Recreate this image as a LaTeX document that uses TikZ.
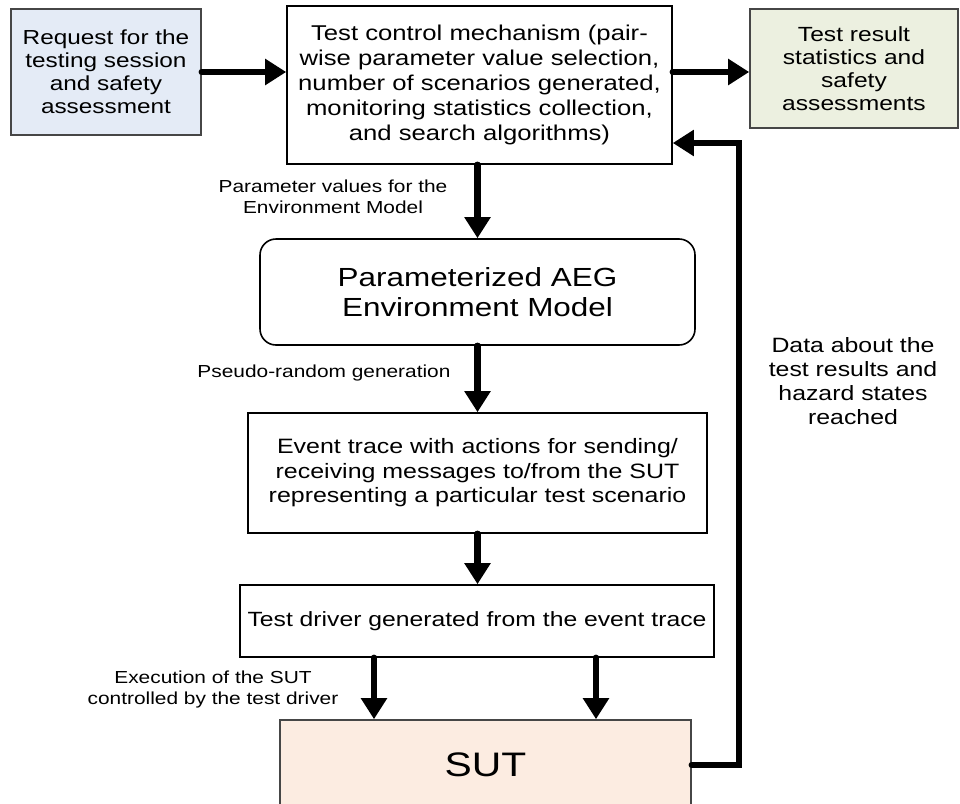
\documentclass[tikz,border=0pt]{standalone}
\usepackage{fontspec}
\setmainfont{Liberation Sans}[FakeStretch=1.2]
\usetikzlibrary{arrows.meta}
\definecolor{reqfill}{RGB}{228,235,246}
\definecolor{resfill}{RGB}{236,240,224}
\definecolor{sutfill}{RGB}{252,236,225}
\definecolor{graybd}{RGB}{70,70,70}
\newcommand{\fs}[2]{\fontsize{#1}{#2}\selectfont}
\tikzset{
  boxbase/.style={rectangle, inner sep=0pt, align=center, line width=1.6pt},
  plainbox/.style={boxbase, draw=black, fill=white},
  arr/.style={line width=6.5pt, line cap=round, line join=miter,
    -{Triangle[width=25pt,length=21pt]}},
  lbl/.style={inner sep=0pt, align=center}
}
\begin{document}
\begin{tikzpicture}[x=1pt,y=-1pt]
\useasboundingbox (0,0) rectangle (960,803);
% boxes
\node[boxbase, draw=graybd, fill=reqfill, minimum width=190pt, minimum height=126pt,
  font=\fs{20.3}{23}] (req) at (106,72)
  {Request for the\\testing session\\and safety\\assessment};
\node[plainbox, minimum width=385pt, minimum height=158pt,
  font=\fs{21.4}{25}] (ctrl) at (479.5,85)
  {Test control mechanism (pair-\\wise parameter value selection,\\number of scenarios generated,\\monitoring statistics collection,\\and search algorithms)};
\node[boxbase, draw=graybd, fill=resfill, minimum width=208pt, minimum height=119pt,
  font=\fs{20.5}{23}] (res) at (854,68.5)
  {Test result\\statistics and\\safety\\assessments};
\node[plainbox, rounded corners=16pt, minimum width=435pt, minimum height=106pt,
  font=\fs{26.2}{30}] (aeg) at (477.5,292)
  {Parameterized AEG\\Environment Model};
\node[plainbox, minimum width=459pt, minimum height=120pt,
  font=\fs{20.8}{24.5}] (evt) at (477.5,473)
  {Event trace with actions for sending/\\receiving messages to/from the SUT\\representing a particular test scenario};
\node[plainbox, minimum width=474pt, minimum height=72pt,
  font=\fs{20.6}{24}] (drv) at (477,621)
  {Test driver generated from the event trace};
\node[boxbase, draw=graybd, fill=sutfill, minimum width=411pt, minimum height=90pt,
  font=\fs{34}{38}] (sut) at (485.5,765) {SUT};
% labels
\node[lbl, font=\fs{17.4}{21}] (l1) at (333,196.5)
  {Parameter values for the\\Environment Model};
\node[lbl, font=\fs{17.4}{21}] (l2) at (324,373) {Pseudo-random generation};
\node[lbl, font=\fs{17.4}{21}] (l3) at (213,689)
  {Execution of the SUT\\controlled by the test driver};
\node[lbl, font=\fs{20.7}{24}] (l4) at (853,381)
  {Data about the\\test results and\\hazard states\\reached};
% connectors
\coordinate (fbtop) at (739,143);
\draw[arr] (req.east) -- (req.east -| ctrl.west);
\draw[arr] (ctrl.east |- req.east) -- (res.west |- req.east);
\draw[arr] (ctrl.south -| aeg.north) -- (aeg.north);
\draw[arr] (aeg.south) -- (evt.north);
\draw[arr] (evt.south) -- (evt.south |- drv.north);
\draw[arr] ([xshift=-103pt]drv.south) -- ([xshift=-103pt]drv.south |- sut.north);
\draw[arr] ([xshift=119pt]drv.south) -- ([xshift=119pt]drv.south |- sut.north);
\draw[arr] (sut.east) -| (fbtop) -- (fbtop -| ctrl.east);
\end{tikzpicture}
\end{document}
